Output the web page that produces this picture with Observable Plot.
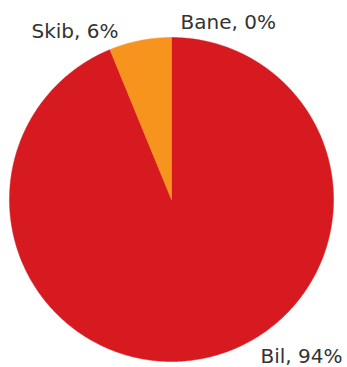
<!DOCTYPE html>
<html><head><meta charset="utf-8">
<script src="https://cdn.jsdelivr.net/npm/d3@7"></script>
<script src="https://cdn.jsdelivr.net/npm/@observablehq/plot@0.6"></script>
<style>body{margin:0;background:#fff}</style>
</head><body><div id="chart"></div>
<script>
const categories = ["Bane", "Bil", "Skib"];
const values = [0.0, 93.8, 6.2];
const labels = ["Bane, 0%", "Bil, 94%", "Skib, 6%"];
const colors = ["#8a8a8a", "#D71920", "#F7941D"];
// label anchor positions (data units, radius = 1)
const labelX = [0.056, 0.549, -0.864];
const labelY = [1.05, -1.012, 0.994];

const pie = d3.pie().sort(null).value(d => d)(values);
const pts = [];
pie.forEach((p, i) => {
  if (p.endAngle - p.startAngle <= 0) return;
  const n = Math.max(2, Math.ceil((p.endAngle - p.startAngle) / 0.01));
  pts.push({k: categories[i], x: 0, y: 0, o: 0});
  for (let j = 0; j <= n; j++) {
    const a = p.startAngle + (p.endAngle - p.startAngle) * j / n;
    pts.push({k: categories[i], x: Math.sin(a), y: Math.cos(a), o: j + 1});
  }
  pts.push({k: categories[i], x: 0, y: 0, o: n + 2});
});
const labelData = categories.map((c, i) => ({k: c, t: labels[i], x: labelX[i], y: labelY[i]}));

const chart = Plot.plot({
  width: 347, height: 367,
  marginLeft: 9, marginRight: 14, marginTop: 37, marginBottom: 6,
  x: {domain: [-1, 1], axis: null},
  y: {domain: [-1, 1], axis: null},
  color: {domain: categories, range: colors},
  style: {fontFamily: "DejaVu Sans", background: "#fff"},
  marks: [
    Plot.line(pts, {x: "x", y: "y", z: "k", fill: "k", stroke: "k", strokeWidth: 0.5, curve: "linear-closed"}),
    Plot.text(labelData, {x: "x", y: "y", text: "t", textAnchor: "start", lineAnchor: "bottom", fontSize: 20, fill: "#333", clip: false})
  ]
});
chart.style.overflow = "visible";
document.getElementById("chart").append(chart);
</script></body></html>
